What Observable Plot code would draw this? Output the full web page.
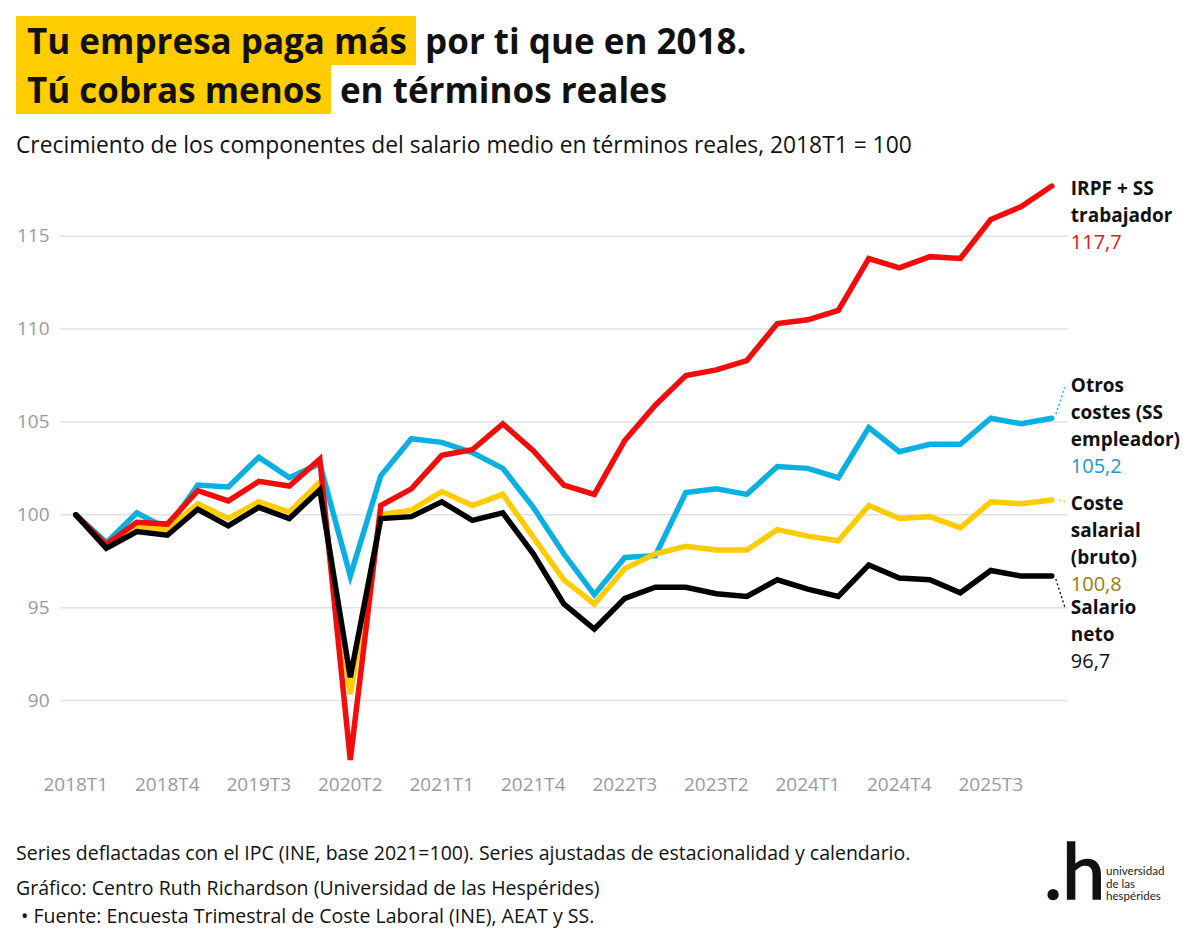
<!DOCTYPE html>
<html lang="es">
<head>
<meta charset="utf-8">
<script src="https://cdn.jsdelivr.net/npm/d3@7"></script>
<script src="https://cdn.jsdelivr.net/npm/@observablehq/plot@0.6"></script>
<style>
  html, body { margin: 0; padding: 0; background: #fff; }
  body { width: 1200px; height: 946px; position: relative; overflow: hidden; font-family: "Open Sans", "Noto Sans", sans-serif; color: #111; }
  .title { position: absolute; left: 16px; top: 16px; font-size: 35px; font-weight: 700; line-height: 49px; white-space: nowrap; }
  .title .row { height: 49px; }
  .title .hl { background: #ffcc00; display: inline-block; padding: 0 9px 0 11px; }
  .subtitle { position: absolute; left: 16px; top: 129px; font-size: 22.8px; line-height: 32px; white-space: nowrap; }
  #chart { position: absolute; left: 0; top: 160px; }
  .foot { position: absolute; left: 16px; font-size: 19.5px; line-height: 28px; white-space: nowrap; color: #111; }
  #logo { position: absolute; left: 0; top: 0; }
</style>
</head>
<body>
<div class="title">
  <div class="row"><span class="hl">Tu empresa paga más</span> por ti que en 2018.</div>
  <div class="row"><span class="hl">Tú cobras menos</span> en términos reales</div>
</div>
<div class="subtitle">Crecimiento de los componentes del salario medio en términos reales, 2018T1 = 100</div>
<div id="chart"></div>
<div class="foot" style="top:839px">Series deflactadas con el IPC (INE, base 2021=100). Series ajustadas de estacionalidad y calendario.</div>
<div class="foot" style="top:874px">Gráfico: Centro Ruth Richardson (Universidad de las Hespérides)</div>
<div class="foot" style="top:902px">&nbsp;• Fuente: Encuesta Trimestral de Coste Laboral (INE), AEAT y SS.</div>
<svg id="logo" width="1200" height="946" style="pointer-events:none">
  <text x="1044" y="899" font-family="Lato" font-size="77" fill="#111" stroke="#111" stroke-width="1.6">.h</text>
  <text font-family="Lato" font-size="11.6" fill="#222">
    <tspan x="1106" y="875">universidad</tspan>
    <tspan x="1106" y="887.5">de las</tspan>
    <tspan x="1106" y="900">hespérides</tspan>
  </text>
</svg>
<script>
// ---- Data ----
const quarters = ["2018T1","2018T2","2018T3","2018T4","2019T1","2019T2","2019T3","2019T4",
  "2020T1","2020T2","2020T3","2020T4","2021T1","2021T2","2021T3","2021T4",
  "2022T1","2022T2","2022T3","2022T4","2023T1","2023T2","2023T3","2023T4",
  "2024T1","2024T2","2024T3","2024T4","2025T1","2025T2","2025T3","2025T4","2026T1"];

const irpfSS = [100, 98.4, 99.6, 99.5, 101.3, 100.75, 101.8, 101.55, 103.0, 86.8,
  100.5, 101.4, 103.2, 103.5, 104.9, 103.45, 101.6, 101.1, 104.0, 105.9,
  107.5, 107.8, 108.3, 110.3, 110.5, 111.0, 113.8, 113.3, 113.9, 113.8, 115.9, 116.6, 117.7];

const otrosCostes = [100, 98.5, 100.1, 99.25, 101.6, 101.5, 103.1, 102.0, 102.75, 96.7,
  102.1, 104.1, 103.9, 103.35, 102.5, 100.4, 97.9, 95.7, 97.7, 97.8,
  101.2, 101.4, 101.1, 102.6, 102.5, 102.0, 104.7, 103.4, 103.8, 103.8, 105.2, 104.9, 105.2];

const costeSalarial = [100, 98.3, 99.4, 99.2, 100.6, 99.8, 100.7, 100.15, 101.75, 90.35,
  100.0, 100.25, 101.25, 100.5, 101.1, 98.8, 96.5, 95.2, 97.1, 97.9,
  98.3, 98.1, 98.1, 99.2, 98.85, 98.6, 100.5, 99.8, 99.9, 99.3, 100.7, 100.6, 100.8];

const salarioNeto = [100, 98.2, 99.1, 98.9, 100.3, 99.4, 100.4, 99.8, 101.35, 91.25,
  99.8, 99.9, 100.7, 99.7, 100.1, 97.9, 95.2, 93.85, 95.5, 96.1,
  96.1, 95.75, 95.6, 96.5, 96.0, 95.6, 97.3, 96.6, 96.5, 95.8, 97.0, 96.7, 96.7];

const seriesNames = [["IRPF + SS","trabajador"], ["Otros","costes (SS","empleador)"], ["Coste","salarial","(bruto)"], ["Salario","neto"]];
const yTicks = [90, 95, 100, 105, 110, 115];
const xTicks = [0, 3, 6, 9, 12, 15, 18, 21, 24, 27, 30];

// ---- Styling / layout ----
const lineColors = ["#f20c0c", "#0bb0e2", "#ffcc00", "#000000"];
const valueColors = ["#e0141c", "#1996c4", "#9c7a0a", "#111111"];
const allValues = [irpfSS, otrosCostes, costeSalarial, salarioNeto];
const drawOrder = [1, 2, 0, 3];
const labelShift = [3, -32.4, 3.6, 32];       // px from end point to first label line
const lineStep = 27;                           // px between label lines
const leaders = [null, {from:[4,-4], to:[13,-31]}, {from:[7,0], to:[14,2]}, {from:[4,3], to:[13,31]}];

const xRange = [75.3, 1051.3], yDomain = [86, 118], yRange = [614.3, 20];
const pxPerQ = (xRange[1] - xRange[0]) / (quarters.length - 1);
const pxPerU = (yRange[0] - yRange[1]) / (yDomain[1] - yDomain[0]);
const last = quarters.length - 1;

const lineRows = allValues.map((vals, s) => vals.map((v, i) => ({i, v, s})));

const nameRows = [], valueRows = [], leaderRows = [];
allValues.forEach((vals, s) => {
  const end = vals[last];
  const names = seriesNames[s];
  names.forEach((t, k) => nameRows.push({x: last, y: end - (labelShift[s] + k * lineStep) / pxPerU, text: t}));
  valueRows.push({x: last, y: end - (labelShift[s] + names.length * lineStep) / pxPerU,
    text: end.toFixed(1).replace(".", ","), fill: valueColors[s]});
  const L = leaders[s];
  if (L) leaderRows.push({x1: last + L.from[0] / pxPerQ, y1: end - L.from[1] / pxPerU,
    x2: last + L.to[0] / pxPerQ, y2: end - L.to[1] / pxPerU, stroke: lineColors[s]});
});

const chart = Plot.plot({
  width: 1200,
  height: 650,
  marginTop: 20,
  marginBottom: 35.7,
  marginLeft: 60,
  marginRight: 132,
  style: {fontFamily: "'Open Sans', 'Noto Sans', sans-serif", fontSize: "19px", background: "transparent"},
  x: {domain: [0, last], range: xRange},
  y: {domain: yDomain, range: yRange},
  color: {type: "identity"},
  marks: [
    Plot.gridY(yTicks, {stroke: "#e2e2e2", strokeOpacity: 1, strokeWidth: 1.5}),
    Plot.axisY(yTicks, {tickSize: 0, tickPadding: 11, fill: "#9a9a9a", fontSize: 19, label: null}),
    Plot.axisX(xTicks, {tickSize: 0, tickPadding: 3, fill: "#9a9a9a", fontSize: 19, label: null,
      tickFormat: i => quarters[i]}),
    ...drawOrder.map(s => Plot.line(lineRows[s], {x: "i", y: "v", stroke: lineColors[s],
      strokeWidth: 5.5, strokeLinejoin: "miter", strokeMiterlimit: 4, strokeLinecap: "round"})),
    Plot.link(leaderRows, {x1: "x1", y1: "y1", x2: "x2", y2: "y2", stroke: "stroke",
      strokeWidth: 1.3, strokeDasharray: "2,2.5"}),
    Plot.text(nameRows, {x: "x", y: "y", text: "text", dx: 19, textAnchor: "start", lineAnchor: "middle",
      fontWeight: "bold", fontSize: 19, fill: "#111"}),
    Plot.text(valueRows, {x: "x", y: "y", text: "text", dx: 19, textAnchor: "start", lineAnchor: "middle",
      fontSize: 20, fill: "fill"})
  ]
});
document.getElementById("chart").appendChild(chart);
</script>
</body>
</html>
